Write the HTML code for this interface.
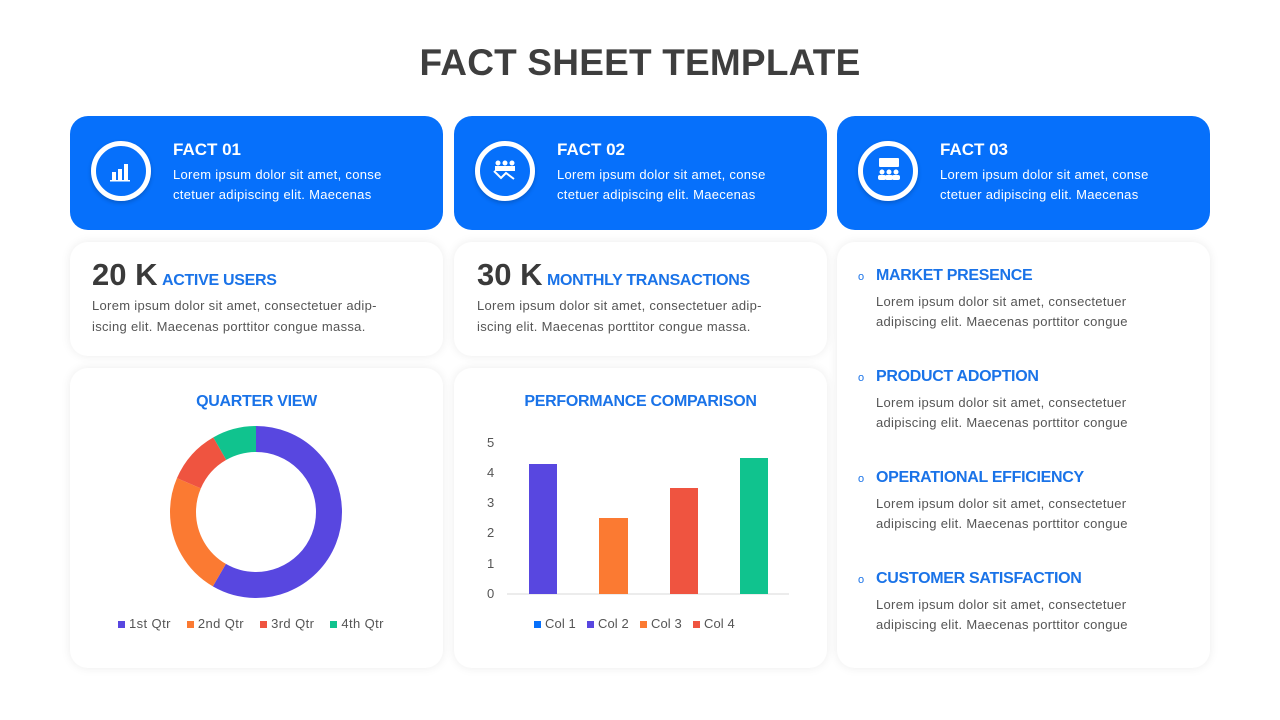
<!DOCTYPE html>
<html><head><meta charset="utf-8"><style>
*{margin:0;padding:0;box-sizing:border-box}
body{width:1280px;height:720px;background:#fff;font-family:"Liberation Sans",sans-serif;position:relative;overflow:hidden}
.abs{position:absolute}
.title{left:0;width:1280px;top:42px;text-align:center;font-size:37px;font-weight:bold;color:#3e3e3e;letter-spacing:0.2px}
.blue{background:#0670fb;border-radius:18px;color:#fff}
.card{background:#fff;border-radius:18px;box-shadow:0 0 10px rgba(0,0,0,0.08)}
.ring{width:60px;height:60px;border:5px solid #fff;border-radius:50%;box-shadow:0 2px 4px rgba(0,0,0,0.2)}
.fh{font-size:17px;font-weight:bold}
.ft{font-size:13px;line-height:20px;letter-spacing:0.3px}
.big{font-size:31px;font-weight:bold;color:#3a3a3a}
.lbl{font-size:16px;font-weight:bold;color:#1a73e8;letter-spacing:-0.3px}
.gt{font-size:13px;line-height:22px;color:#555;letter-spacing:0.3px}
.ct{font-size:16px;font-weight:bold;color:#1a73e8;text-align:center;letter-spacing:-0.3px}
.leg{font-size:13px;color:#555;letter-spacing:0.4px}
.sq{display:inline-block;width:7px;height:7px;margin-right:4px}
.bul{color:#1a73e8;font-size:11px;display:inline-block;width:18px}
</style></head><body>
<div class="abs title">FACT SHEET TEMPLATE</div>

<div class="abs blue" style="left:70px;top:116px;width:373px;height:114px"></div>
<div class="abs blue" style="left:454px;top:116px;width:373px;height:114px"></div>
<div class="abs blue" style="left:837px;top:116px;width:373px;height:114px"></div>
<div class="abs ring" style="left:91px;top:141px"></div>
<div class="abs ring" style="left:475px;top:141px"></div>
<div class="abs ring" style="left:858px;top:141px"></div>
<svg class="abs" style="left:110px;top:160px" width="22" height="22"><g fill="#fff"><rect x="2" y="12" width="4" height="8"/><rect x="8" y="9" width="4" height="11"/><rect x="14" y="4" width="4" height="16"/><rect x="0" y="20" width="20" height="1.5"/></g></svg>
<svg class="abs" style="left:492px;top:159px" width="26" height="22"><g fill="#fff"><circle cx="6" cy="4" r="2.5"/><circle cx="13" cy="4" r="2.5"/><circle cx="20" cy="4" r="2.5"/><rect x="3" y="7" width="20" height="5"/></g><path d="M2 12 L9 19 L14 14 L22 20" stroke="#fff" stroke-width="2" fill="none"/></svg>
<svg class="abs" style="left:876px;top:158px" width="26" height="24"><g fill="#fff"><rect x="3" y="0" width="20" height="9" rx="1"/><circle cx="6" cy="14" r="2.5"/><circle cx="13" cy="14" r="2.5"/><circle cx="20" cy="14" r="2.5"/><rect x="2" y="17" width="8" height="5" rx="2"/><rect x="9" y="17" width="8" height="5" rx="2"/><rect x="16" y="17" width="8" height="5" rx="2"/></g></svg>

<div class="abs" style="left:173px;top:140px;color:#fff"><div class="fh">FACT 01</div><div class="ft" style="margin-top:5px">Lorem ipsum dolor sit amet, conse<br>ctetuer adipiscing elit. Maecenas</div></div>
<div class="abs" style="left:557px;top:140px;color:#fff"><div class="fh">FACT 02</div><div class="ft" style="margin-top:5px">Lorem ipsum dolor sit amet, conse<br>ctetuer adipiscing elit. Maecenas</div></div>
<div class="abs" style="left:940px;top:140px;color:#fff"><div class="fh">FACT 03</div><div class="ft" style="margin-top:5px">Lorem ipsum dolor sit amet, conse<br>ctetuer adipiscing elit. Maecenas</div></div>

<div class="abs card" style="left:70px;top:242px;width:373px;height:114px"></div>
<div class="abs card" style="left:454px;top:242px;width:373px;height:114px"></div>
<div class="abs card" style="left:837px;top:242px;width:373px;height:426px"></div>
<div class="abs card" style="left:70px;top:368px;width:373px;height:300px"></div>
<div class="abs card" style="left:454px;top:368px;width:373px;height:300px"></div>

<div class="abs" style="left:92px;top:257px"><span class="big">20 K</span> <span class="lbl">ACTIVE USERS</span></div>
<div class="abs gt" style="left:92px;top:295px;line-height:21px">Lorem ipsum dolor sit amet, consectetuer adip-<br>iscing elit. Maecenas porttitor congue massa.</div>
<div class="abs" style="left:477px;top:257px"><span class="big">30 K</span> <span class="lbl">MONTHLY TRANSACTIONS</span></div>
<div class="abs gt" style="left:477px;top:295px;line-height:21px">Lorem ipsum dolor sit amet, consectetuer adip-<br>iscing elit. Maecenas porttitor congue massa.</div>

<div class="abs" style="left:858px;top:267px"><span class="bul">o</span><span class="lbl">MARKET PRESENCE</span></div>
<div class="abs gt" style="left:876px;top:292px;line-height:20px">Lorem ipsum dolor sit amet, consectetuer<br>adipiscing elit. Maecenas porttitor congue</div>
<div class="abs" style="left:858px;top:368px"><span class="bul">o</span><span class="lbl">PRODUCT ADOPTION</span></div>
<div class="abs gt" style="left:876px;top:393px;line-height:20px">Lorem ipsum dolor sit amet, consectetuer<br>adipiscing elit. Maecenas porttitor congue</div>
<div class="abs" style="left:858px;top:469px"><span class="bul">o</span><span class="lbl">OPERATIONAL EFFICIENCY</span></div>
<div class="abs gt" style="left:876px;top:494px;line-height:20px">Lorem ipsum dolor sit amet, consectetuer<br>adipiscing elit. Maecenas porttitor congue</div>
<div class="abs" style="left:858px;top:570px"><span class="bul">o</span><span class="lbl">CUSTOMER SATISFACTION</span></div>
<div class="abs gt" style="left:876px;top:595px;line-height:20px">Lorem ipsum dolor sit amet, consectetuer<br>adipiscing elit. Maecenas porttitor congue</div>

<div class="abs ct" style="left:70px;width:373px;top:393px">QUARTER VIEW</div>
<svg class="abs" style="left:0;top:0" width="1280" height="720">
<g transform="rotate(-90 256 512)" fill="none" stroke-width="26">
<circle cx="256" cy="512" r="73" stroke="#5847e0" stroke-dasharray="267.6 458.7" stroke-dashoffset="0"/>
<circle cx="256" cy="512" r="73" stroke="#fb7a32" stroke-dasharray="105.8 458.7" stroke-dashoffset="-267.6"/>
<circle cx="256" cy="512" r="73" stroke="#ef5440" stroke-dasharray="47.2 458.7" stroke-dashoffset="-373.4"/>
<circle cx="256" cy="512" r="73" stroke="#10c38e" stroke-dasharray="38.2 458.7" stroke-dashoffset="-420.6"/>
</g>
<line x1="507" y1="594" x2="789" y2="594" stroke="#d9d9d9" stroke-width="1"/>
<rect x="529" y="464" width="28" height="130" fill="#5847e0"/>
<rect x="599" y="518" width="29" height="76" fill="#fb7a32"/>
<rect x="670" y="488" width="28" height="106" fill="#ef5440"/>
<rect x="740" y="458" width="28" height="136" fill="#10c38e"/>
<g font-family="Liberation Sans" font-size="13" fill="#555">
<text x="487" y="447">5</text><text x="487" y="477">4</text><text x="487" y="507">3</text><text x="487" y="537">2</text><text x="487" y="568">1</text><text x="487" y="598">0</text>
</g>
</svg>
<div class="abs ct" style="left:454px;width:373px;top:393px">PERFORMANCE COMPARISON</div>
<div class="abs leg" style="left:118px;top:616px"><span class="sq" style="background:#5847e0"></span>1st Qtr &nbsp;&nbsp;&nbsp;<span class="sq" style="background:#fb7a32"></span>2nd Qtr &nbsp;&nbsp;&nbsp;<span class="sq" style="background:#ef5440"></span>3rd Qtr &nbsp;&nbsp;&nbsp;<span class="sq" style="background:#10c38e"></span>4th Qtr</div>
<div class="abs leg" style="left:534px;top:616px;letter-spacing:0.1px"><span class="sq" style="background:#0670fb"></span>Col 1 &nbsp;&nbsp;<span class="sq" style="background:#5847e0"></span>Col 2 &nbsp;&nbsp;<span class="sq" style="background:#fb7a32"></span>Col 3 &nbsp;&nbsp;<span class="sq" style="background:#ef5440"></span>Col 4</div>
</body></html>
